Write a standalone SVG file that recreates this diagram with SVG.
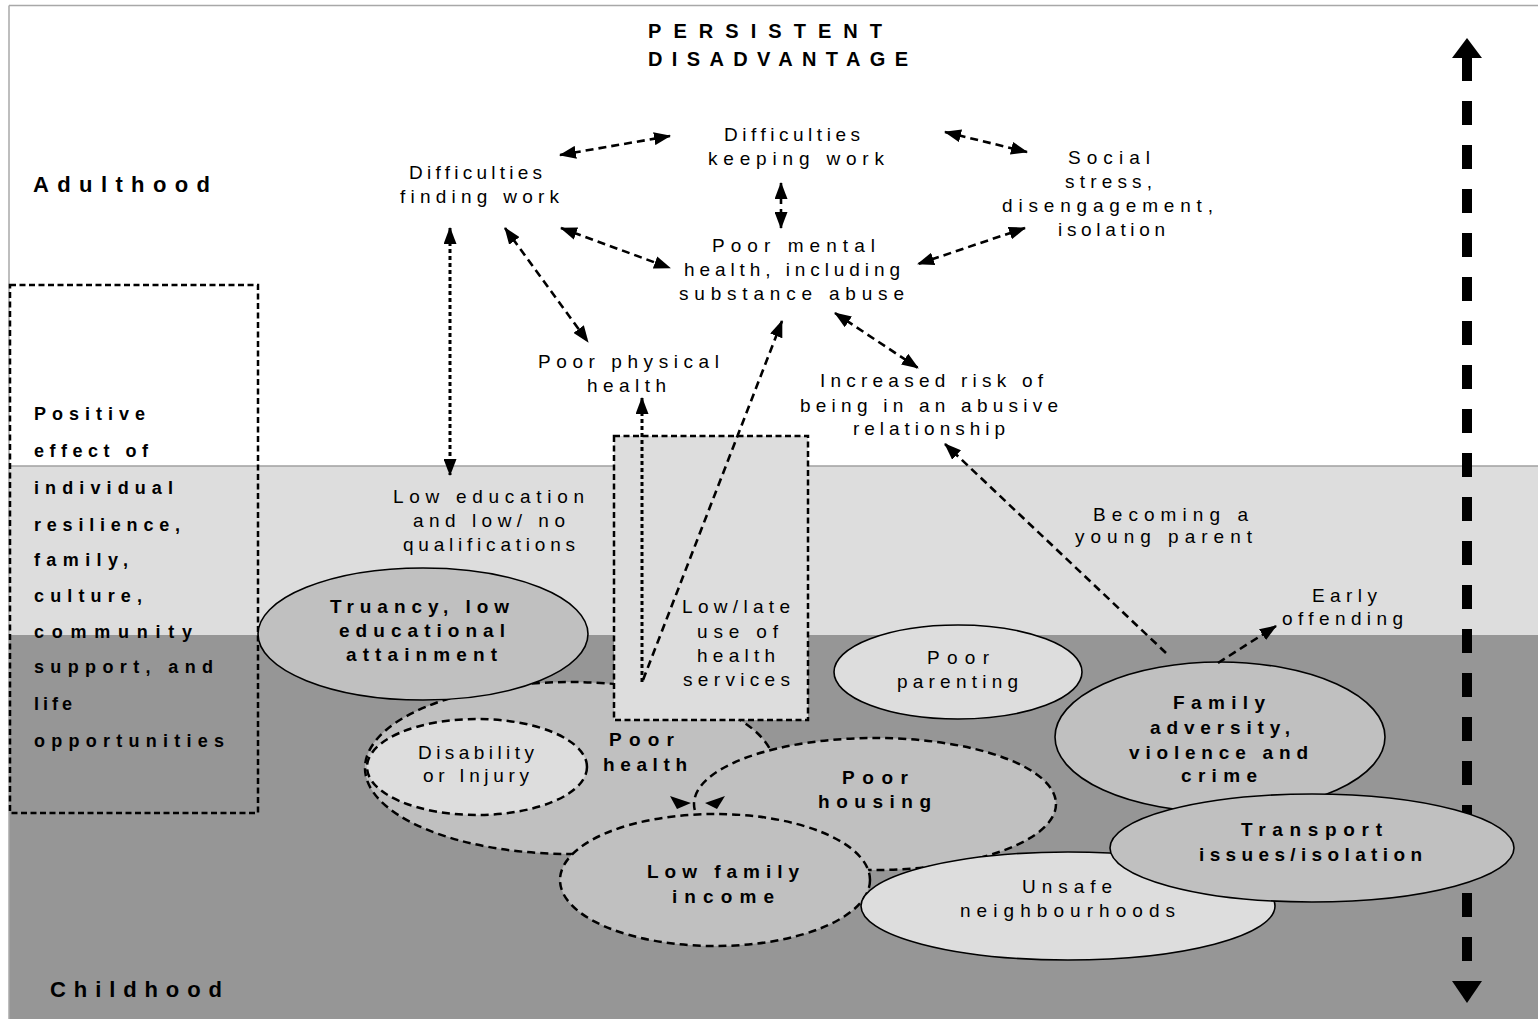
<svg xmlns="http://www.w3.org/2000/svg" width="1538" height="1019" viewBox="0 0 1538 1019">
<defs>
<style>
.n{font-family:"Liberation Sans",Arial,sans-serif;font-size:19px;fill:#000}
.b{font-family:"Liberation Sans",Arial,sans-serif;font-size:19px;font-weight:bold;fill:#000}
.lb{font-family:"Liberation Sans",Arial,sans-serif;font-size:18px;font-weight:bold;fill:#000}
.t{font-family:"Liberation Sans",Arial,sans-serif;font-size:20px;font-weight:bold;fill:#000}
.h{font-family:"Liberation Sans",Arial,sans-serif;font-size:22px;font-weight:bold;fill:#000}
.solid{stroke:#000;stroke-width:1.6}
.dash{stroke:#000;stroke-width:2.5;stroke-dasharray:8 5}
.mid{fill:#c0c0c0}
.lite{fill:#dddddd}
.con{stroke:#000;stroke-width:2.6;stroke-dasharray:8 5;fill:none}
.dot{stroke:#000;stroke-width:3;stroke-dasharray:4 3;fill:none}
.box{stroke:#000;stroke-width:2.5;stroke-dasharray:6 3.5}
</style>
<marker id="ah" viewBox="0 0 17 13" refX="16" refY="6.5" markerWidth="17" markerHeight="13" markerUnits="userSpaceOnUse" orient="auto-start-reverse">
<path d="M0,0 L17,6.5 L0,13 z" fill="#000"/>
</marker>
</defs>

<g id="background">
<rect x="0" y="0" width="1538" height="1019" fill="#ffffff"/>
<rect x="9" y="6" width="1529" height="460" fill="#ffffff"/>
<rect x="9" y="466" width="1529" height="169" fill="#dddddd"/>
<rect x="9" y="635" width="1529" height="384" fill="#969696"/>
<line x1="9" y1="466" x2="1538" y2="466" stroke="#a0a0a0" stroke-width="1.5"/>
<line x1="9" y1="5.5" x2="1538" y2="5.5" stroke="#a8a8a8" stroke-width="1.5"/>
<line x1="9" y1="5.5" x2="9" y2="1019" stroke="#a8a8a8" stroke-width="1.5"/>
</g>

<g id="timeline-arrow">
<line x1="1467" y1="57" x2="1467" y2="961" stroke="#000" stroke-width="10" stroke-dasharray="24 20"/>
<polygon points="1467,38 1482,58 1452,58" fill="#000"/>
<polygon points="1452,981 1482,981 1467,1003" fill="#000"/>
</g>

<g id="titles">
<text class="t" x="648" y="38" textLength="234">PERSISTENT</text>
<text class="t" x="648" y="66" textLength="260">DISADVANTAGE</text>
<text class="h" x="33" y="192" textLength="177">Adulthood</text>
<text class="h" x="50" y="997" textLength="172">Childhood</text>
</g>

<g id="protective-factors">
<rect class="box" x="10" y="285" width="248" height="528" fill="none"/>
<text class="lb" x="34" y="420" textLength="111">Positive</text>
<text class="lb" x="34" y="457" textLength="114">effect of</text>
<text class="lb" x="34" y="494" textLength="139">individual</text>
<text class="lb" x="34" y="531" textLength="146">resilience,</text>
<text class="lb" x="34" y="566" textLength="94">family,</text>
<text class="lb" x="34" y="602" textLength="108">culture,</text>
<text class="lb" x="34" y="638" textLength="158">community</text>
<text class="lb" x="34" y="673" textLength="179">support, and</text>
<text class="lb" x="34" y="710" textLength="38">life</text>
<text class="lb" x="34" y="747" textLength="190">opportunities</text>
</g>

<g id="poor-health">
<ellipse class="dash mid" cx="570" cy="768" rx="205" ry="86"/>
<text class="b" x="609" y="746" textLength="65">Poor</text>
<text class="b" x="603" y="771" textLength="84">health</text>
</g>

<g id="disability">
<ellipse class="dash lite" cx="477" cy="767" rx="110" ry="48"/>
<text class="n" x="418" y="759" textLength="116">Disability</text>
<text class="n" x="423" y="782" textLength="106">or Injury</text>
</g>

<g id="truancy">
<ellipse class="solid mid" cx="423" cy="634" rx="165" ry="66"/>
<text class="b" x="330" y="613" textLength="179">Truancy, low</text>
<text class="b" x="339" y="637" textLength="166">educational</text>
<text class="b" x="346" y="661" textLength="151">attainment</text>
</g>

<g id="health-services">
<rect class="box lite" x="614" y="436" width="194" height="284"/>
<text class="n" x="682" y="613" textLength="108">Low/late</text>
<text class="n" x="697" y="638" textLength="81">use of</text>
<text class="n" x="697" y="662" textLength="78">health</text>
<text class="n" x="683" y="686" textLength="107">services</text>
</g>

<g id="poor-housing">
<ellipse class="dash mid" cx="875" cy="804" rx="181" ry="66"/>
<text class="b" x="842" y="784" textLength="66">Poor</text>
<text class="b" x="818" y="808" textLength="113">housing</text>
</g>

<g id="low-family-income">
<ellipse class="dash mid" cx="715" cy="880" rx="155" ry="66"/>
<text class="b" x="647" y="878" textLength="152">Low family</text>
<text class="b" x="672" y="903" textLength="102">income</text>
</g>

<g id="unsafe-neighbourhoods">
<ellipse class="solid lite" cx="1068" cy="906" rx="207" ry="54"/>
<text class="n" x="1022" y="893" textLength="90">Unsafe</text>
<text class="n" x="960" y="917" textLength="215">neighbourhoods</text>
</g>

<g id="poor-parenting">
<ellipse class="solid lite" cx="958" cy="672" rx="124" ry="47"/>
<text class="n" x="927" y="664" textLength="62">Poor</text>
<text class="n" x="897" y="688" textLength="121">parenting</text>
</g>

<g id="family-adversity">
<ellipse class="solid mid" cx="1220" cy="737" rx="165" ry="75"/>
<text class="b" x="1173" y="709" textLength="92">Family</text>
<text class="b" x="1150" y="734" textLength="140">adversity,</text>
<text class="b" x="1129" y="759" textLength="179">violence and</text>
<text class="b" x="1181" y="782" textLength="76">crime</text>
</g>

<g id="transport">
<ellipse class="solid mid" cx="1312" cy="848" rx="202" ry="54"/>
<text class="b" x="1241" y="836" textLength="141">Transport</text>
<text class="b" x="1199" y="861" textLength="223">issues/isolation</text>
</g>

<g id="difficulties-keeping-work">
<text class="n" x="724" y="141" textLength="136">Difficulties</text>
<text class="n" x="708" y="165" textLength="176">keeping work</text>
</g>
<g id="difficulties-finding-work">
<text class="n" x="409" y="179" textLength="133">Difficulties</text>
<text class="n" x="400" y="203" textLength="159">finding work</text>
</g>
<g id="social-stress">
<text class="n" x="1068" y="164" textLength="82">Social</text>
<text class="n" x="1065" y="188" textLength="87">stress,</text>
<text class="n" x="1002" y="212" textLength="211">disengagement,</text>
<text class="n" x="1058" y="236" textLength="107">isolation</text>
</g>
<g id="poor-mental-health">
<text class="n" x="712" y="252" textLength="163">Poor mental</text>
<text class="n" x="684" y="276" textLength="216">health, including</text>
<text class="n" x="679" y="300" textLength="225">substance abuse</text>
</g>
<g id="poor-physical-health">
<text class="n" x="538" y="368" textLength="181">Poor physical</text>
<text class="n" x="587" y="392" textLength="79">health</text>
</g>
<g id="abusive-relationship">
<text class="n" x="820" y="387" textLength="223">Increased risk of</text>
<text class="n" x="800" y="412" textLength="258">being in an abusive</text>
<text class="n" x="853" y="435" textLength="152">relationship</text>
</g>
<g id="low-education">
<text class="n" x="393" y="503" textLength="191">Low education</text>
<text class="n" x="413" y="527" textLength="152">and low/ no</text>
<text class="n" x="403" y="551" textLength="172">qualifications</text>
</g>
<g id="young-parent">
<text class="n" x="1093" y="521" textLength="155">Becoming a</text>
<text class="n" x="1075" y="543" textLength="177">young parent</text>
</g>
<g id="early-offending">
<text class="n" x="1312" y="602" textLength="65">Early</text>
<text class="n" x="1282" y="625" textLength="121">offending</text>
</g>

<g id="connectors">
<line class="con" x1="560" y1="155" x2="670" y2="136" marker-start="url(#ah)" marker-end="url(#ah)"/>
<line class="con" x1="945" y1="132" x2="1027" y2="152" marker-start="url(#ah)" marker-end="url(#ah)"/>
<line class="con" x1="781" y1="183" x2="781" y2="228" stroke-dasharray="none" marker-start="url(#ah)" marker-end="url(#ah)"/>
<line class="con" x1="561" y1="228" x2="670" y2="268" marker-start="url(#ah)" marker-end="url(#ah)"/>
<line class="con" x1="1025" y1="228" x2="918" y2="264" marker-start="url(#ah)" marker-end="url(#ah)"/>
<line class="dot" x1="450" y1="228" x2="450" y2="475" marker-start="url(#ah)" marker-end="url(#ah)"/>
<line class="con" x1="505" y1="228" x2="588" y2="342" marker-start="url(#ah)" marker-end="url(#ah)"/>
<line class="con" x1="835" y1="313" x2="918" y2="368" marker-start="url(#ah)" marker-end="url(#ah)"/>
<line class="dot" x1="642" y1="682" x2="642" y2="398" marker-end="url(#ah)"/>
<line class="con" x1="643" y1="680" x2="782" y2="321" marker-end="url(#ah)"/>
<line class="con" x1="1166" y1="653" x2="945" y2="444" marker-end="url(#ah)"/>
<line class="con" x1="1218" y1="663" x2="1276" y2="626" marker-end="url(#ah)"/>
<polygon points="670,796 691,803 677,809" fill="#000"/>
<polygon points="725,796 705,803 717,809" fill="#000"/>
</g>
</svg>
